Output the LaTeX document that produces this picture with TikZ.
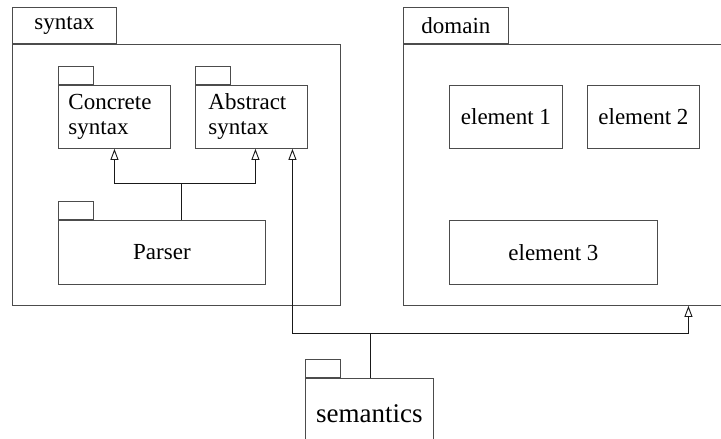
\documentclass[tikz,border=0pt]{standalone}
\usepackage{fontspec}
\setmainfont{Liberation Serif}
\usetikzlibrary{arrows.meta}
\begin{document}
\begin{tikzpicture}[x=1pt,y=-1pt,
  box/.style={draw=black!70, line width=0.9pt, inner sep=0pt},
  pkg/.style={box, anchor=north west},
  tabbox/.style={box, anchor=south west},
  conn/.style={draw=black!90, line width=0.9pt},
  gen/.style={conn, -{Triangle[open,length=11pt,width=8pt]}},
  lbl/.style={font=\fontsize{23}{25}\selectfont},
  biglbl/.style={font=\fontsize{27}{30}\selectfont}
]
\useasboundingbox (0,0) rectangle (721,439);
\clip (0,0) rectangle (721,439);

% syntax package
\node[pkg, minimum width=328pt, minimum height=261pt] (syntax) at (12,44) {};
\node[tabbox, lbl, minimum width=104pt, minimum height=36pt] (syntaxtab) at (syntax.north west) {syntax};

% domain package
\node[pkg, minimum width=340pt, minimum height=261pt] (domain) at (403,44) {};
\node[tabbox, lbl, minimum width=105pt, minimum height=36pt] (domaintab) at (domain.north west) {domain};

% nested packages in syntax
\node[pkg, lbl, minimum width=112pt, minimum height=63pt, text width=92pt, align=left] (concrete) at (58,85) {Concrete\\syntax};
\node[tabbox, minimum width=35pt, minimum height=18pt] (concretetab) at (concrete.north west) {};
\node[pkg, lbl, minimum width=112pt, minimum height=63pt, text width=86pt, align=left] (abstract) at (195,85) {Abstract\\syntax};
\node[tabbox, minimum width=35pt, minimum height=18pt] (abstracttab) at (abstract.north west) {};
\node[pkg, lbl, minimum width=207pt, minimum height=64pt] (parser) at (58,220) {Parser};
\node[tabbox, minimum width=35pt, minimum height=18pt] (parsertab) at (parser.north west) {};

% elements of domain
\node[pkg, lbl, minimum width=113pt, minimum height=63pt] (el1) at (449,85) {element 1};
\node[pkg, lbl, minimum width=112pt, minimum height=63pt] (el2) at (587,85) {element 2};
\node[pkg, lbl, minimum width=208pt, minimum height=64pt] (el3) at (449,220) {element 3};

% semantics package
\node[pkg, biglbl, minimum width=128pt, minimum height=70pt] (sem) at (305,378) {semantics};
\node[tabbox, minimum width=35pt, minimum height=18pt] (semtab) at (sem.north west) {};

% dependencies
\coordinate (j1) at (181,183);
\coordinate (j2) at (370,333);
\draw[conn] (parser.north -| j1) -- (j1);
\draw[gen] (j1) -| (concrete.south);
\draw[gen] (j1) -| ([xshift=4pt]abstract.south);
\draw[conn] (sem.north -| j2) -- (j2);
\draw[gen] (j2) -| ([xshift=41pt]abstract.south);
\draw[gen] (j2) -| ([xshift=115pt]domain.south);
\end{tikzpicture}
\end{document}
